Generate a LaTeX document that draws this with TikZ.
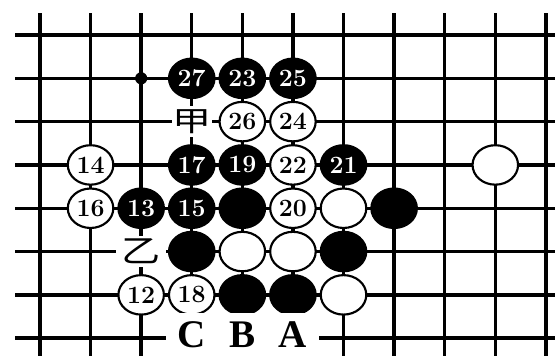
\documentclass[tikz,border=0pt]{standalone}
\usepackage{fontspec}
\usepackage{graphicx}
\usepackage{tikz}
\usetikzlibrary{shapes.geometric}
\newfontfamily\cjkfont{Noto Sans CJK SC}
\newfontfamily\markfont{Liberation Serif}

\begin{document}
\begin{tikzpicture}[
        board/.style={line width=1.9pt, black},
        stone/.style={ellipse, draw=black, line width=1.2pt, minimum width=0.9cm, minimum height=0.78cm, inner sep=0pt, font=\fontsize{14}{14}\selectfont\bfseries},
        wstone/.style={stone, fill=white, text=black},
        bstone/.style={stone, fill=black, text=white},
        cjkmark/.style={fill=white, inner sep=0pt, minimum width=0.8cm, minimum height=0.6cm, font=\cjkfont\fontsize{22}{22}\selectfont},
        letter/.style={fill=white, inner sep=0pt, minimum width=1.02cm, minimum height=0.86cm, font=\markfont\fontsize{22}{22}\selectfont\bfseries}
    ]
        \useasboundingbox (-0.79,-6.344) rectangle (10.18,0.692);
        \draw [board, xstep=1cm, ystep=0.856cm] (-0.49,-6.344) grid (10.18,0.435);
        \node (hoshi) [circle, fill=black, inner sep=0pt, minimum size=0.24cm] at (2,-0.856) {};

        % row 1
        \node (m27) [bstone] at (3,-0.856) {27};
        \node (m23) [bstone] at (4,-0.856) {23};
        \node (m25) [bstone] at (5,-0.856) {25};
        % row 2
        \node (jia) [cjkmark] at (3,-1.712) {\scalebox{1}[0.72]{甲}};
        \node (m26) [wstone] at (4,-1.712) {26};
        \node (m24) [wstone] at (5,-1.712) {24};
        % row 3
        \node (m14) [wstone] at (1,-2.568) {14};
        \node (m17) [bstone] at (3,-2.568) {17};
        \node (m19) [bstone] at (4,-2.568) {19};
        \node (m22) [wstone] at (5,-2.568) {22};
        \node (m21) [bstone] at (6,-2.568) {21};
        \node (w93) [wstone] at (9,-2.568) {};
        % row 4
        \node (m16) [wstone] at (1,-3.424) {16};
        \node (m13) [bstone] at (2,-3.424) {13};
        \node (m15) [bstone] at (3,-3.424) {15};
        \node (b44) [bstone] at (4,-3.424) {};
        \node (m20) [wstone] at (5,-3.424) {20};
        \node (w64) [wstone] at (6,-3.424) {};
        \node (b74) [bstone] at (7,-3.424) {};
        % row 5
        \node (yi) [cjkmark, minimum width=1cm] at (2,-4.28) {\scalebox{1}[0.8]{乙}};
        \node (b35) [bstone] at (3,-4.28) {};
        \node (w45) [wstone] at (4,-4.28) {};
        \node (w55) [wstone] at (5,-4.28) {};
        \node (b65) [bstone] at (6,-4.28) {};
        % row 6
        \node (m12) [wstone] at (2,-5.136) {12};
        \node (m18) [wstone] at (3,-5.136) {18};
        \node (b46) [bstone] at (4,-5.136) {};
        \node (b56) [bstone] at (5,-5.136) {};
        \node (w66) [wstone] at (6,-5.136) {};
        % row 7
        \node (pc) [letter] at (3,-5.919) {C};
        \node (pb) [letter] at (4,-5.919) {B};
        \node (pa) [letter] at (5,-5.919) {A};
    \end{tikzpicture}
\end{document}
